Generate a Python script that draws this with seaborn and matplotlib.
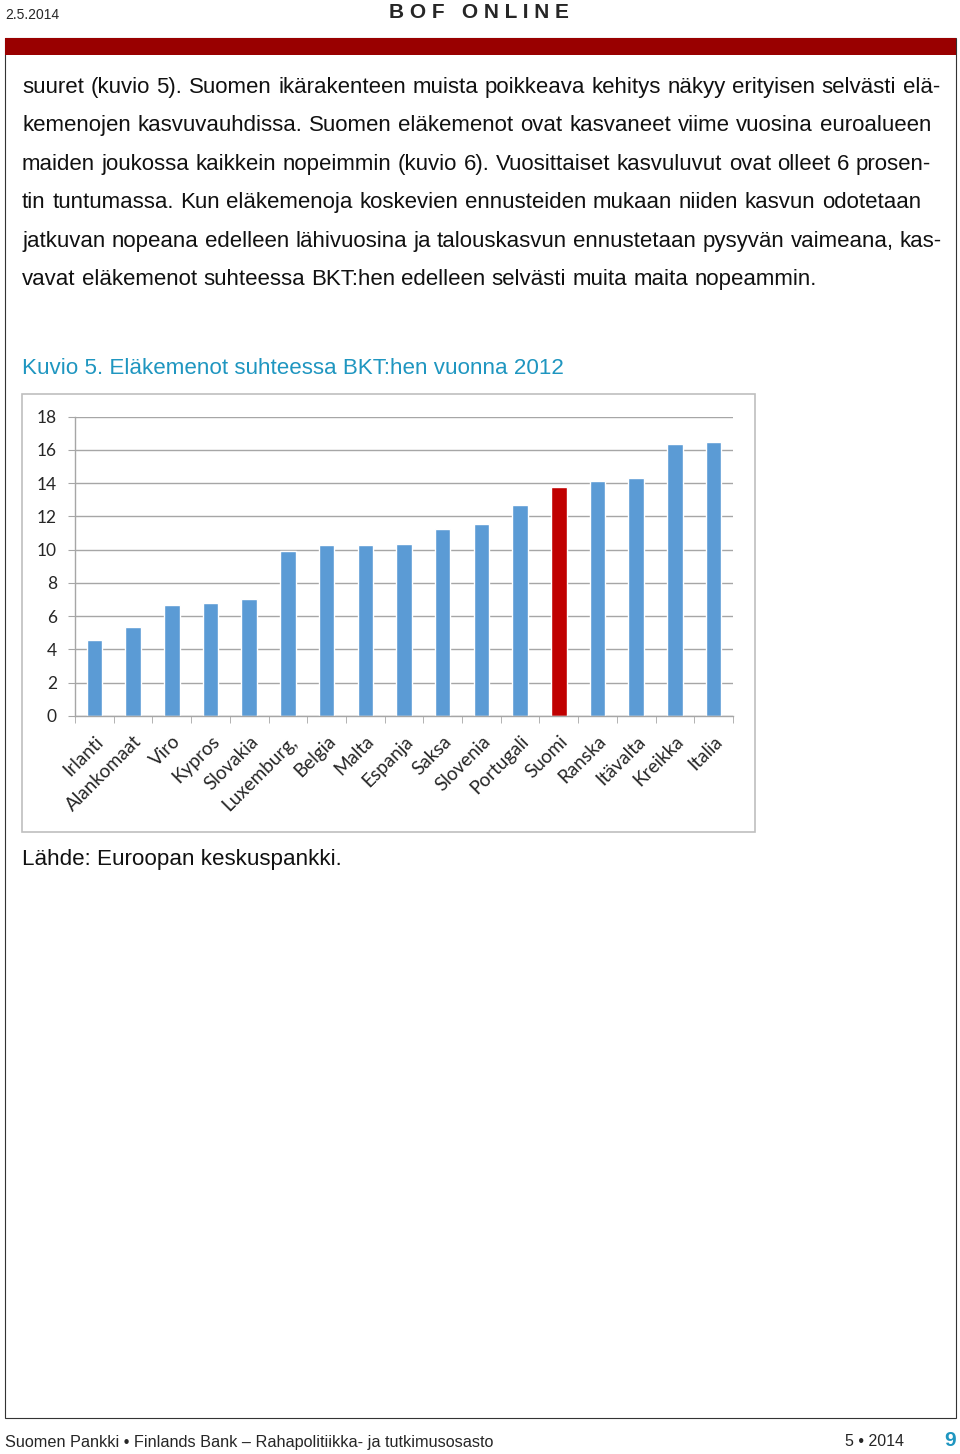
import matplotlib
matplotlib.use("Agg")
import matplotlib.pyplot as plt
import seaborn as sns
from matplotlib.patches import Rectangle

# Data (eläkemenot, % BKT:sta, 2012)
countries = ['Irlanti', 'Alankomaat', 'Viro', 'Kypros', 'Slovakia', 'Luxemburg,',
             'Belgia', 'Malta', 'Espanja', 'Saksa', 'Slovenia', 'Portugali',
             'Suomi', 'Ranska', 'Itävalta', 'Kreikka', 'Italia']
values = [4.6, 5.35, 6.65, 6.8, 7.05, 9.95, 10.3, 10.3, 10.35, 11.25, 11.55,
          12.7, 13.75, 14.15, 14.3, 16.35, 16.45]
yticks = [0, 2, 4, 6, 8, 10, 12, 14, 16, 18]
highlight = 'Suomi'

body_lines = [
    "suuret (kuvio 5). Suomen ikärakenteen muista poikkeava kehitys näkyy erityisen selvästi elä-",
    "kemenojen kasvuvauhdissa. Suomen eläkemenot ovat kasvaneet viime vuosina euroalueen",
    "maiden joukossa kaikkein nopeimmin (kuvio 6). Vuosittaiset kasvuluvut ovat olleet 6 prosen-",
    "tin tuntumassa. Kun eläkemenoja koskevien ennusteiden mukaan niiden kasvun odotetaan",
    "jatkuvan nopeana edelleen lähivuosina ja talouskasvun ennustetaan pysyvän vaimeana, kas-",
    "vavat eläkemenot suhteessa BKT:hen edelleen selvästi muita maita nopeammin.",
]
# right edge (px) of each justified line; None = left aligned
line_ends = [940, 931, 931, 921, 942, None]

W, H = 960, 1454


def fx(x):
    return x / W


def fy(y):
    return 1 - y / H


sns.set_style("white")
plt.rcParams['font.family'] = ['Liberation Sans', 'DejaVu Sans']

fig = plt.figure(figsize=(9.6, 14.54), dpi=100)
renderer = fig.canvas.get_renderer()

# page frame and header band
fig.patches.append(Rectangle((fx(5), fy(1418)), fx(951), (1418 - 38) / H,
                             transform=fig.transFigure, fill=False,
                             edgecolor='#333333', linewidth=0.8))
fig.patches.append(Rectangle((fx(5), fy(55)), fx(951), 17 / H,
                             transform=fig.transFigure, facecolor='#990000',
                             edgecolor='none'))
fig.text(fx(5), fy(15), "2.5.2014", fontsize=10, va='center', ha='left')
fig.text(fx(479), fy(12), "B O F   O N L I N E", fontsize=15, fontweight='bold',
         va='center', ha='center')


def justified(line, x0, x1, y, size):
    words = line.split(' ')
    items = [fig.text(0, fy(y), w, fontsize=size, va='baseline', ha='left',
                      color='#111111') for w in words]
    widths = [t.get_window_extent(renderer).width for t in items]
    if x1 is None:
        gap = size * 0.28 * 100 / 72
    else:
        gap = (x1 - x0 - sum(widths)) / (len(words) - 1)
    x = x0
    for t, w in zip(items, widths):
        t.set_x(fx(x))
        x += w + gap


# body text
for i, line in enumerate(body_lines):
    justified(line, 22, line_ends[i], 93 + i * 38.4, 16)

fig.text(fx(22), fy(369), "Kuvio 5. Eläkemenot suhteessa BKT:hen vuonna 2012",
         fontsize=16.1, va='center', ha='left', color='#1f96c0')

# chart frame
fig.patches.append(Rectangle((fx(22), fy(832)), fx(733), (832 - 394) / H,
                             transform=fig.transFigure, fill=False,
                             edgecolor='#bfbfbf', linewidth=1.2))

ax = fig.add_axes([fx(75), fy(716), fx(733 - 75), (716 - 416.7) / H])
palette = ['#C00000' if c == highlight else '#5B9BD5' for c in countries]
sns.barplot(x=countries, y=values, hue=countries, palette=palette, legend=False,
            saturation=1, width=0.4, ax=ax)

ax.set_ylim(0, 18)
ax.set_xlim(-0.5, len(countries) - 0.5)
ax.set_yticks(yticks)
ax.yaxis.grid(True, color='#a6a6a6', linewidth=1)
ax.set_axisbelow(True)
for s in ['top', 'right']:
    ax.spines[s].set_visible(False)
for s in ['left', 'bottom']:
    ax.spines[s].set_color('#a6a6a6')
    ax.spines[s].set_linewidth(1)

ax.tick_params(axis='y', length=5, color='#a6a6a6', labelsize=12.5, pad=8,
               left=True, direction='out')
ax.set_xticks(range(len(countries)))
ax.set_xticklabels(countries, rotation=45, ha='right', rotation_mode='anchor')
ax.set_xticks([i - 0.5 for i in range(len(countries) + 1)], minor=True)
ax.tick_params(axis='x', which='major', length=0, labelsize=13.6, pad=12)
ax.tick_params(axis='x', which='minor', length=5, color='#a6a6a6',
               direction='out', bottom=True)
for lab in ax.get_xticklabels() + ax.get_yticklabels():
    lab.set_fontfamily(['Lato', 'DejaVu Sans'])
ax.set_xlabel('')
ax.set_ylabel('')

fig.text(fx(22), fy(859), "Lähde: Euroopan keskuspankki.", fontsize=16.1,
         va='center', ha='left', color='#111111')

# footer
fig.text(fx(5), fy(1442), "Suomen Pankki • Finlands Bank – Rahapolitiikka- ja tutkimusosasto",
         fontsize=11.7, va='center', ha='left')
fig.text(fx(904), fy(1442), "5 • 2014", fontsize=11.5, va='center', ha='right')
fig.text(fx(956), fy(1440), "9", fontsize=15, fontweight='bold', va='center',
         ha='right', color='#1f96c0')

fig.savefig('out.png', dpi=100)
